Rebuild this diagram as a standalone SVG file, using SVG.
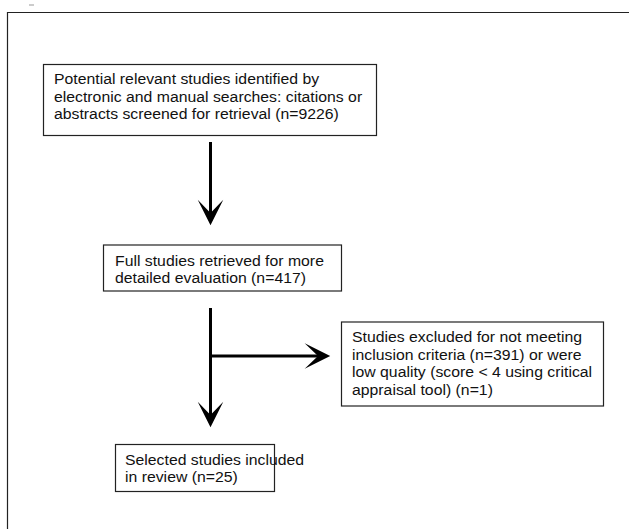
<svg xmlns="http://www.w3.org/2000/svg" width="629" height="529" viewBox="0 0 629 529">
<style>
.box{fill:#fff;stroke:#222;stroke-width:1.2}
.t{font-family:"Liberation Sans",Arial,sans-serif;font-size:14.5px;fill:#111}
.c{fill:none;stroke:#000;stroke-width:3}
.frame{fill:none;stroke:#222;stroke-width:1.2}
</style>
<defs>
<marker id="ah" markerUnits="userSpaceOnUse" markerWidth="30" markerHeight="30" viewBox="-25 -13 27 26" refX="-11" refY="0" orient="auto">
<path d="M0,0 L-23,-11.5 L-11,0 L-23,11.5 Z" fill="#000"/>
</marker>
</defs>
<rect width="629" height="529" fill="#fff"/>
<path class="frame" d="M7.5,529 V12.5 H629"/>
<line x1="29" y1="5" x2="34" y2="5" stroke="#999" stroke-width="1"/>
<g id="n1">
<rect class="box" x="43.5" y="64.5" width="333" height="71"/>
<g transform="translate(54,0) scale(1.09,1)">
<text class="t" x="0" y="84.5">Potential relevant studies identified by</text>
<text class="t" x="0" y="102">electronic and manual searches: citations or</text>
<text class="t" x="0" y="119.5">abstracts screened for retrieval (n=9226)</text>
</g>
</g>
<g id="n2">
<rect class="box" x="103.5" y="245" width="238" height="46"/>
<g transform="translate(115,0) scale(1.09,1)">
<text class="t" x="0" y="266">Full studies retrieved for more</text>
<text class="t" x="0" y="283">detailed evaluation (n=417)</text>
</g>
</g>
<g id="n3">
<rect class="box" x="341.5" y="322" width="262" height="84"/>
<g transform="translate(352,0) scale(1.09,1)">
<text class="t" x="0" y="342.5">Studies excluded for not meeting</text>
<text class="t" x="0" y="360">inclusion criteria (n=391) or were</text>
<text class="t" x="0" y="377.5">low quality (score &lt; 4 using critical</text>
<text class="t" x="0" y="395">appraisal tool) (n=1)</text>
</g>
</g>
<g id="n4">
<rect class="box" x="115.5" y="444.5" width="159" height="47"/>
<g transform="translate(125,0) scale(1.09,1)">
<text class="t" x="0" y="465.5">Selected studies included</text>
<text class="t" x="0" y="482.5">in review (n=25)</text>
</g>
</g>
<g id="connectors">
<line class="c" x1="210.5" y1="142" x2="210.5" y2="213" marker-end="url(#ah)"/>
<line class="c" x1="210.5" y1="308" x2="210.5" y2="415" marker-end="url(#ah)"/>
<line class="c" x1="210.5" y1="356" x2="318" y2="356" marker-end="url(#ah)"/>
</g>
</svg>
